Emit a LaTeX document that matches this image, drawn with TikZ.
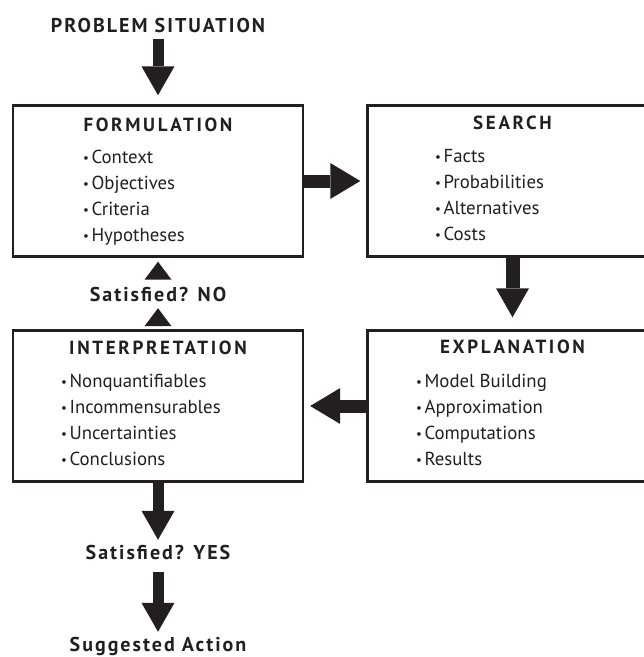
\documentclass[tikz,border=0pt]{standalone}
\usepackage{fontspec}
\setmainfont{PT Sans}
\newfontfamily\headfont[LetterSpace=10]{PT Sans}
\newfontfamily\boxheadfont[LetterSpace=14]{PT Sans}
\usetikzlibrary{arrows.meta}
\definecolor{ink}{RGB}{35,31,32}
% bullet in front of each list entry
\newcommand\itm{\raisebox{0.6pt}{\fontsize{13}{13}\selectfont •}\hspace{2.5pt}}
\tikzset{
  box/.style={draw=ink, line width=2.4pt, minimum width=290pt, minimum height=151pt, inner sep=0pt},
  head/.style={font=\boxheadfont\bfseries\fontsize{19}{22}\selectfont, text=ink, inner sep=0pt},
  item/.style={font=\fontsize{18.8}{22}\selectfont, text=ink, anchor=base west, inner sep=0pt},
  outer/.style={font=\headfont\bfseries\fontsize{20}{24}\selectfont, text=ink, inner sep=0pt,
                text height=15pt, text depth=0pt},
  fat/.style={draw=ink, line width=11pt, -{Triangle[width=33pt,length=29pt,line width=0pt]}},
  wide/.style={draw=ink, line width=13pt, -{Triangle[width=36pt,length=30pt,line width=0pt]}},
  tri/.style={draw=ink, line width=0.01pt, -{Triangle[width=27pt,length=18pt,line width=0pt]}}
}
\begin{document}
\begin{tikzpicture}[x=1pt,y=-1pt]
\useasboundingbox (0,0) rectangle (644,657);
\clip (0,0) rectangle (644,657);

% the four stage boxes
\node[box] (form)   at (158,181)   {};
\node[box] (search) at (512.5,181) {};
\node[box] (interp) at (158,406)   {};
\node[box] (expl)   at (512.5,406) {};

% box headings
\node[head] (formh)   at (158,125)   {FORMULATION};
\node[head] (searchh) at (512.5,123) {SEARCH};
\node[head] (interph) at (158,348)   {INTERPRETATION};
\node[head] (explh)   at (512.5,347) {EXPLANATION};

% box contents
\foreach \t [count=\i] in {Context,Objectives,Criteria,Hypotheses}
  \node[item] (f\i) at (83,{163.5+26*(\i-1)}) {\itm\t};
\foreach \t [count=\i] in {Facts,Probabilities,Alternatives,Costs}
  \node[item] (s\i) at (435,{162.5+26*(\i-1)}) {\itm\t};
\foreach \t [count=\i] in {Nonquantifiables,Incommensurables,Uncertainties,Conclusions}
  \node[item] (i\i) at (61,{387.5+26*(\i-1)}) {\itm\t};
\foreach \t [count=\i] in {Model Building,Approximation,Computations,Results}
  \node[item] (e\i) at (416,{387.5+26*(\i-1)}) {\itm\t};

% labels outside the boxes
\node[outer] (ps)     at (158,25)    {PROBLEM SITUATION};
\node[outer] (satno)  at (158,294)   {Satisfied? NO};
\node[outer] (satyes) at (158,552)   {Satisfied? YES};
\node[outer] (action) at (158,643.5) {Suggested Action};

% flow arrows
\draw[fat]  (ps.south) -- (form.north) [shorten <=6.5pt, shorten >=9pt];
\draw[wide] (form.east) -- (search.west) [shorten >=6pt];
\draw[fat, line width=14pt] (search.south) -- (expl.north) [shorten >=12pt];
\draw[wide] (expl.west) -- (interp.east) [shorten >=6pt];
\draw[tri]  (interp.north) -- (satno.south) [shorten <=4pt, shorten >=6.5pt];
\draw[tri]  (satno.north) -- (form.south) [shorten <=8.5pt, shorten >=4pt];
\draw[fat]  (interp.south) -- (satyes.north) [shorten >=4.5pt];
\draw[fat]  (satyes.south) -- (action.north) [shorten <=12.5pt, shorten >=4pt];
\end{tikzpicture}
\end{document}
